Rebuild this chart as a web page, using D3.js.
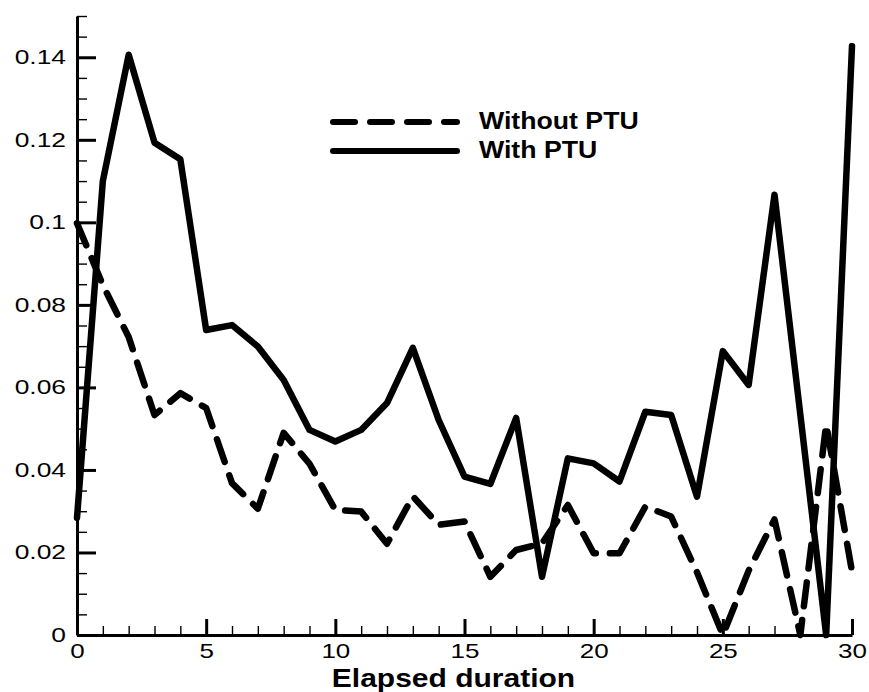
<!DOCTYPE html>
<html>
<head>
<meta charset="utf-8">
<script src="https://cdn.jsdelivr.net/npm/d3@7"></script>
<style>
  body { margin: 0; background: #fff; }
  svg { display: block; font-family: "Liberation Sans", Arial, sans-serif; }
</style>
</head>
<body>
<svg width="869" height="692"></svg>
<script>
// Data
var elapsed = [0, 1, 2, 3, 4, 5, 6, 7, 8, 9, 10, 11, 12, 13, 14, 15, 16, 17, 18, 19, 20,
               21, 22, 23, 24, 25, 26, 27, 28, 29, 30];
var withPTU = [0.0284, 0.110, 0.1406, 0.1193, 0.1153, 0.0739, 0.0751, 0.0699, 0.0618, 0.0497, 0.0469,
               0.0497, 0.0562, 0.0696, 0.0521, 0.0384, 0.0366, 0.0526, 0.0141, 0.0428, 0.0416,
               0.0372, 0.0541, 0.0533, 0.0335, 0.0688, 0.0606, 0.1067, 0.0534, 0, 0.1427];
var withoutPTU = [0.0998, 0.0848, 0.0722, 0.0533, 0.0586, 0.0550, 0.0368, 0.0306, 0.049, 0.0415, 0.0303,
                  0.0299, 0.0221, 0.0336, 0.0267, 0.0275, 0.0141, 0.0206, 0.0222, 0.0315, 0.0198,
                  0.0198, 0.0311, 0.0287, 0.0152, 0, 0.0156, 0.028, 0, 0.051, 0.0154];
var xMajor = [0, 5, 10, 15, 20, 25, 30];
var yMajor = [0, 0.02, 0.04, 0.06, 0.08, 0.1, 0.12, 0.14];
var legendLabels = ["Without PTU", "With PTU"];

var svg = d3.select("svg"),
    margin = {top: 16, right: 17, bottom: 57, left: 77},
    width = svg.attr("width") - margin.left - margin.right,
    height = svg.attr("height") - margin.top - margin.bottom,
    g = svg.append("g")
      .attr("transform", "translate(" + margin.left + "," + margin.top + ")");

var x = d3.scaleLinear().domain([0, 30]).range([0, width]),
    y = d3.scaleLinear().domain([0, 0.15]).range([height, 0]);

// the original text is wider than Arial, stretch it a bit
function stretch(sel, s) {
  sel.each(function() {
    var t = d3.select(this);
    var tx = +t.attr("x") || 0;
    t.attr("x", 0).attr("transform", "translate(" + tx + ",0) scale(" + s + ",1)");
  });
}

// minor ticks
g.append("g")
  .attr("transform", "translate(0," + height + ")")
  .call(d3.axisBottom(x).tickValues(elapsed).tickSize(-9).tickFormat(""))
  .call(function(a) { a.select(".domain").remove(); a.selectAll("line").attr("stroke-width", 1.4); });

var yMinor = [];
for (var v = 0; v <= 30; v++) yMinor.push(v * 0.005);
g.append("g")
  .call(d3.axisLeft(y).tickValues(yMinor).tickSize(-10).tickFormat(""))
  .call(function(a) { a.select(".domain").remove(); a.selectAll("line").attr("stroke-width", 1.4); });

// X axis
var xAxis = g.append("g")
  .attr("transform", "translate(0," + height + ")")
  .call(d3.axisBottom(x).tickValues(xMajor).tickSize(-16).tickSizeOuter(0).tickPadding(9));
xAxis.select(".domain").attr("stroke-width", 3);
xAxis.selectAll("line").attr("stroke-width", 3);
xAxis.selectAll("text").attr("font-size", 20).attr("fill", "#000")
  .attr("font-family", "Liberation Sans, Arial, sans-serif");
stretch(xAxis.selectAll("text"), 1.3);

// Y axis
var yAxis = g.append("g")
  .call(d3.axisLeft(y).tickValues(yMajor).tickSize(-19).tickSizeOuter(0).tickPadding(11)
    .tickFormat(function(d) { return d === 0 ? "0" : d3.format("")(+d.toFixed(2)); }));
yAxis.select(".domain").attr("stroke-width", 3);
yAxis.selectAll("line").attr("stroke-width", 3);
yAxis.selectAll("text").attr("font-size", 20).attr("fill", "#000")
  .attr("font-family", "Liberation Sans, Arial, sans-serif");
stretch(yAxis.selectAll("text"), 1.32);

// axis title
g.append("text")
  .attr("transform", "translate(" + (x(15) - 11) + "," + (height + 52) + ") scale(1.2,1)")
  .attr("text-anchor", "middle")
  .attr("font-size", 25)
  .attr("font-weight", "bold")
  .text("Elapsed duration");

// Lines
var line = function(vals) {
  return d3.line()
    .x(function(d, i) { return x(elapsed[i]); })
    .y(function(d) { return y(d); })(vals);
};

g.append("path")
  .attr("d", line(withoutPTU))
  .attr("fill", "none")
  .attr("stroke", "#000")
  .attr("stroke-width", 6.5)
  .attr("stroke-linecap", "round")
  .attr("stroke-linejoin", "round")
  .attr("stroke-dasharray", "24,14");

g.append("path")
  .attr("d", line(withPTU))
  .attr("fill", "none")
  .attr("stroke", "#000")
  .attr("stroke-width", 6.5)
  .attr("stroke-linecap", "round")
  .attr("stroke-linejoin", "round");

// Legend
var legend = svg.append("g").attr("transform", "translate(333,122)");
legend.selectAll("line")
  .data(legendLabels)
  .enter().append("line")
    .attr("x1", 0)
    .attr("x2", 124)
    .attr("y1", function(d, i) { return i * 29; })
    .attr("y2", function(d, i) { return i * 29; })
    .attr("stroke", "#000")
    .attr("stroke-width", 6)
    .attr("stroke-linecap", "round")
    .attr("stroke-dasharray", function(d, i) { return i === 0 ? "22,15" : null; });
legend.selectAll("text")
  .data(legendLabels)
  .enter().append("text")
    .attr("transform", function(d, i) { return "translate(146," + (i * 29 + 7) + ") scale(1.16,1)"; })
    .attr("font-size", 23)
    .attr("font-weight", "bold")
    .text(function(d) { return d; });
</script>
</body>
</html>
